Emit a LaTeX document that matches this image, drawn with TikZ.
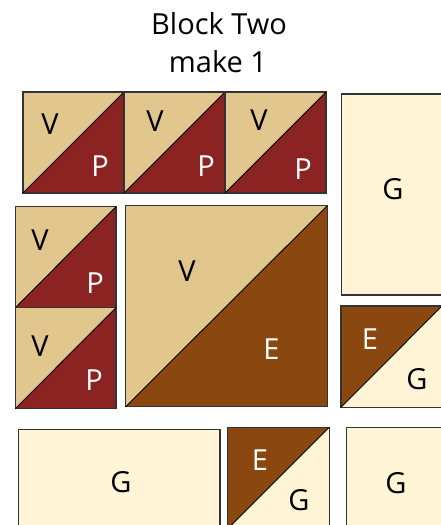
\documentclass[tikz,border=0pt]{standalone}
\usepackage{fontspec}
\setmainfont{Open Sans}
\definecolor{vtan}{HTML}{E1C68D}
\definecolor{pred}{HTML}{8B2323}
\definecolor{ebrown}{HTML}{8B4710}
\definecolor{gcream}{HTML}{FFF4D6}
\newcommand{\halfsq}[6]{%\halfsq{<x>}{<y>}{<w>}{<h>}{<upper color>}{<lower color>}
    \fill[#5] (#1,#2) -- (#1+#3,#2) -- (#1,#2+#4) -- cycle;
    \fill[#6] (#1+#3,#2) -- (#1+#3,#2+#4) -- (#1,#2+#4) -- cycle;
    \draw[edge] (#1,#2) rectangle ++(#3,#4);
    \draw[diag] (#1,#2+#4) -- ++(#3,-#4);}

\begin{document}
\begin{tikzpicture}[x=1pt,y=-1pt,nodes={font=\fontsize{29}{33}\selectfont,inner sep=0pt,anchor=base},
  edge/.style={draw=black!80,line width=1.3pt},
  diag/.style={draw=black,line width=0.9pt},
  dark/.style={text=white},
  lite/.style={text=black}]
\useasboundingbox (0,0) rectangle (440,525);
% title
\node (title1) at (219,34) {Block Two};
\node (title2) at (218,72.7) {make 1};
% top row of half squares
\foreach \x in {23,124,225}
\halfsq{\x}{92}{101}{101}{vtan}{pred};
% left column
\halfsq{15.3}{206.7}{100.7}{101}{vtan}{pred}
\halfsq{15.3}{307.7}{100.7}{101}{vtan}{pred}
% big square
\halfsq{125.7}{205.7}{201.6}{201}{vtan}{ebrown}
% small E/G squares
\halfsq{341}{306}{101}{101.3}{ebrown}{gcream}
\halfsq{227.7}{427.3}{101.6}{101.6}{ebrown}{gcream}
% plain G pieces
\filldraw[fill=gcream,edge] (341.7,94) rectangle (443,295);
\filldraw[fill=gcream,edge] (18.3,429.3) rectangle (220,530);
\filldraw[fill=gcream,edge] (346.7,427.7) rectangle (445,530);
% labels
\node[lite] (v1) at (50,134) {V};
\node[dark] (p1) at (100,176.7) {P};
\node[lite] (v2) at (155,131.7) {V};
\node[dark] (p2) at (206,176.7) {P};
\node[lite] (v3) at (259,130) {V};
\node[dark] (p3) at (303,179) {P};
\node[lite] (g1) at (393,199) {G};
\node[lite] (v4) at (40,250) {V};
\node[dark] (p4) at (95,293) {P};
\node[lite] (v5) at (40,356) {V};
\node[dark] (p5) at (94,390) {P};
\node[lite] (v6) at (187,281) {V};
\node[dark] (e1) at (271.5,359) {E};
\node[dark] (e2) at (370,349) {E};
\node[lite] (g2) at (417,389) {G};
\node[lite] (g3) at (121,492.7) {G};
\node[dark] (e3) at (260,470) {E};
\node[lite] (g4) at (299,510) {G};
\node[lite] (g5) at (396,493) {G};
\end{tikzpicture}
\end{document}
